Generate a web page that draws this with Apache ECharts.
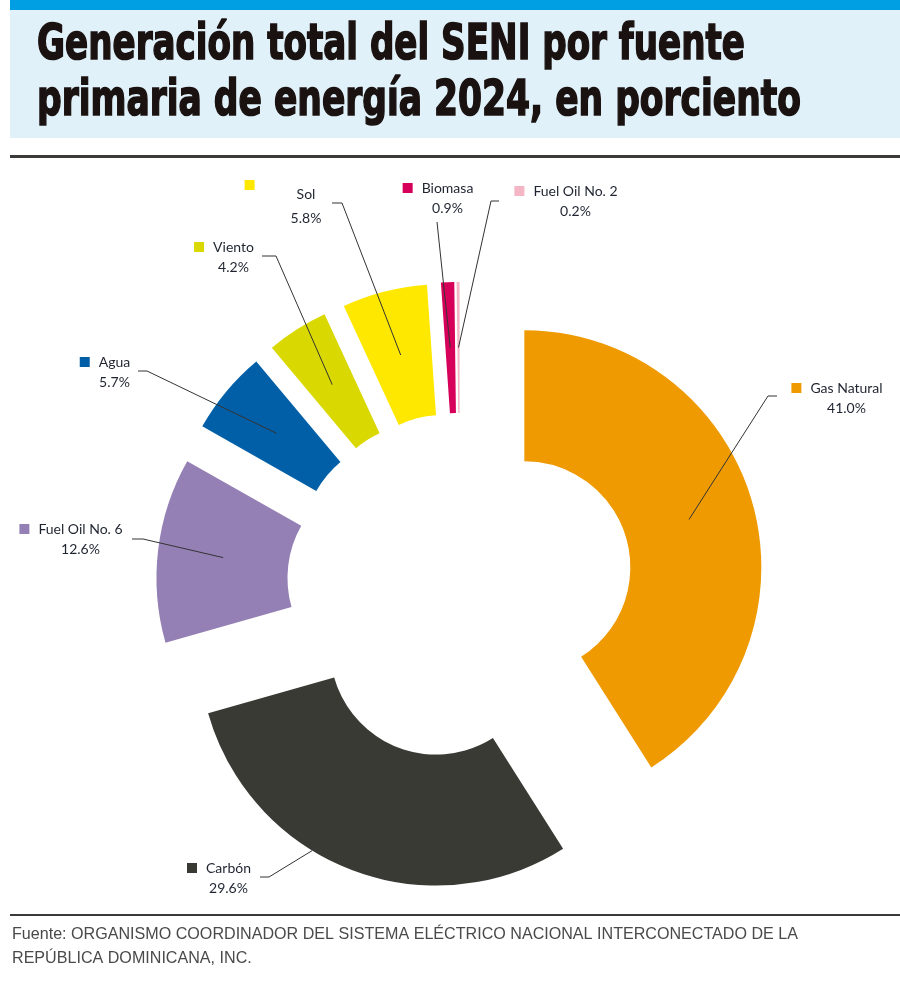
<!DOCTYPE html>
<html>
<head>
<meta charset="utf-8">
<script src="https://cdn.jsdelivr.net/npm/echarts@6/dist/echarts.min.js"></script>
<style>
  html, body { margin: 0; padding: 0; background: #fff; }
  #main { width: 900px; height: 986px; }
</style>
</head>
<body>
<div id="main"></div>
<script>
const myChart = echarts.init(document.getElementById('main'));

// datos
const fuentes = ['Gas Natural', 'Carbón', 'Fuel Oil No. 6', 'Agua', 'Viento', 'Sol', 'Biomasa', 'Fuel Oil No. 2'];
const porcentajes = [41.0, 29.6, 12.6, 5.7, 4.2, 5.8, 0.9, 0.2];
const colores = ['#EF9A00', '#3A3A35', '#9580B5', '#005FA6', '#D9D800', '#FFE800', '#D6005A', '#F4B6C4'];

const titulo = ['Generación total del SENI por fuente', 'primaria de energía 2024, en porciento'];
const fuenteTxt = ['Fuente: ORGANISMO COORDINADOR DEL SISTEMA ELÉCTRICO NACIONAL INTERCONECTADO DE LA', 'REPÚBLICA DOMINICANA, INC.'];

// posiciones de etiquetas (centro del bloque), enganche de la guía,
// y punta de la guía dentro del sector (t: radial 0..1, a: fracción del arco)
const etiquetas = [
    {x: 837, y: 398, bend: [768, 396], end: [777, 396], t: 0.5, a: 0.5},
    {x: 219, y: 878, bend: [269, 877], end: [260, 877], t: 1.0, a: 0.6},
    {x: 71,  y: 539, bend: [143, 539], end: [132, 539], t: 0.5, a: 0.5},
    {x: 105, y: 372, bend: [147, 371], end: [138, 371], t: 0.5, a: 0.5},
    {x: 224, y: 257, bend: [276, 256], end: [262, 256], t: 0.5, a: 0.5},
    {x: 280, y: 204, bend: [342, 203], end: [332, 203], t: 0.5, a: 0.5},
    {x: 438, y: 198, bend: [437, 222], end: [437, 222], t: 0.5, a: 0.5},
    {x: 566, y: 201, bend: [491, 201], end: [499, 201], t: 0.5, a: 0.5}
];

const explode = 67;
const centro = [460, 586];
const radio = [106, 237];
const labelFont = 'Lato, "Open Sans", sans-serif';
const labelColor = '#1f2430';

function fitScale(text, font, width) {
    const ctx = document.createElement('canvas').getContext('2d');
    ctx.font = font;
    return width / ctx.measureText(text).width;
}

const tituloFont = 'bold 50px "DejaVu Sans Condensed", sans-serif';
const pieFont = '17px "Liberation Sans", Arial, sans-serif';
const sx1 = fitScale(titulo[0], tituloFont, 708);
const sx2 = fitScale(titulo[1], tituloFont, 764);
const sxF = fitScale(fuenteTxt[0], pieFont, 786);

const sectores = fuentes.map(function (n, i) {
    return {name: n, value: porcentajes[i], selected: true, itemStyle: {color: colores[i]}};
});

const rotulos = fuentes.map(function (n, i) {
    const sol = n === 'Sol';
    return {
        name: n,
        value: porcentajes[i],
        label: {
            rich: {
                sq: {width: 10, height: 10, backgroundColor: colores[i], verticalAlign: sol ? 'top' : 'middle'},
                gap: {width: sol ? 42 : 9},
                pad: {width: sol ? 52 : 19},
                name: {fontSize: 14, lineHeight: sol ? 28 : 20, color: labelColor, fontFamily: labelFont},
                val: {fontSize: 14, lineHeight: 20, color: labelColor, fontFamily: labelFont}
            }
        }
    };
});

option = {
    backgroundColor: '#fff',
    animation: false,
    graphic: [
        {type: 'rect', left: 10, top: 10, shape: {width: 890, height: 128}, style: {fill: '#E1F1FA'}},
        {type: 'rect', left: 10, top: 0, shape: {width: 890, height: 10}, style: {fill: '#009FE3'}},
        {type: 'text', x: 37, y: 46, scaleX: sx1, style: {text: titulo[0], font: tituloFont, fill: '#1a1210', stroke: '#1a1210', lineWidth: 1.6, verticalAlign: 'middle'}},
        {type: 'text', x: 37, y: 102, scaleX: sx2, style: {text: titulo[1], font: tituloFont, fill: '#1a1210', stroke: '#1a1210', lineWidth: 1.6, verticalAlign: 'middle'}},
        {type: 'rect', left: 10, top: 155, shape: {width: 890, height: 3}, style: {fill: '#3c3a38'}},
        {type: 'rect', left: 10, top: 914, shape: {width: 890, height: 2}, style: {fill: '#3c3a38'}},
        {type: 'text', x: 12, y: 934, scaleX: sxF, style: {text: fuenteTxt[0], font: pieFont, fill: '#4a4a4a', verticalAlign: 'middle'}},
        {type: 'text', x: 12, y: 958, scaleX: sxF, style: {text: fuenteTxt[1], font: pieFont, fill: '#4a4a4a', verticalAlign: 'middle'}}
    ],
    series: [
        {
            // anillo con sectores separados
            type: 'pie',
            z: 2,
            center: centro,
            radius: radio,
            startAngle: 90,
            clockwise: true,
            selectedMode: 'multiple',
            selectedOffset: explode,
            emphasis: {disabled: true},
            label: {show: false},
            labelLine: {show: false},
            data: sectores
        },
        {
            // capa invisible solo para rótulos y líneas guía
            type: 'pie',
            z: 5,
            center: centro,
            radius: radio,
            startAngle: 90,
            clockwise: true,
            silent: true,
            avoidLabelOverlap: false,
            minShowLabelAngle: 0,
            itemStyle: {color: 'rgba(0,0,0,0)'},
            emphasis: {disabled: true},
            label: {
                show: true,
                position: 'outside',
                formatter: function (p) {
                    return '{sq|}{gap|}{name|' + p.name + '}\n{pad|}{val|' + p.value.toFixed(1) + '%}';
                }
            },
            labelLine: {show: true, lineStyle: {color: '#333', width: 1}},
            labelLayout: function (params) {
                const i = params.dataIndex;
                const e = etiquetas[i];
                const lay = myChart.getModel().getSeriesByIndex(1).getData().getItemLayout(i);
                const mid = (lay.startAngle + lay.endAngle) / 2;
                const ang = lay.startAngle + (lay.endAngle - lay.startAngle) * e.a;
                const rr = lay.r0 + (lay.r - lay.r0) * e.t;
                const ox = lay.cx + explode * Math.cos(mid);
                const oy = lay.cy + explode * Math.sin(mid);
                const p0 = [ox + rr * Math.cos(ang), oy + rr * Math.sin(ang)];
                return {
                    x: e.x,
                    y: e.y,
                    align: 'center',
                    verticalAlign: 'middle',
                    labelLinePoints: [p0, e.bend, e.end]
                };
            },
            data: rotulos
        }
    ]
};

myChart.setOption(option);
</script>
</body>
</html>
